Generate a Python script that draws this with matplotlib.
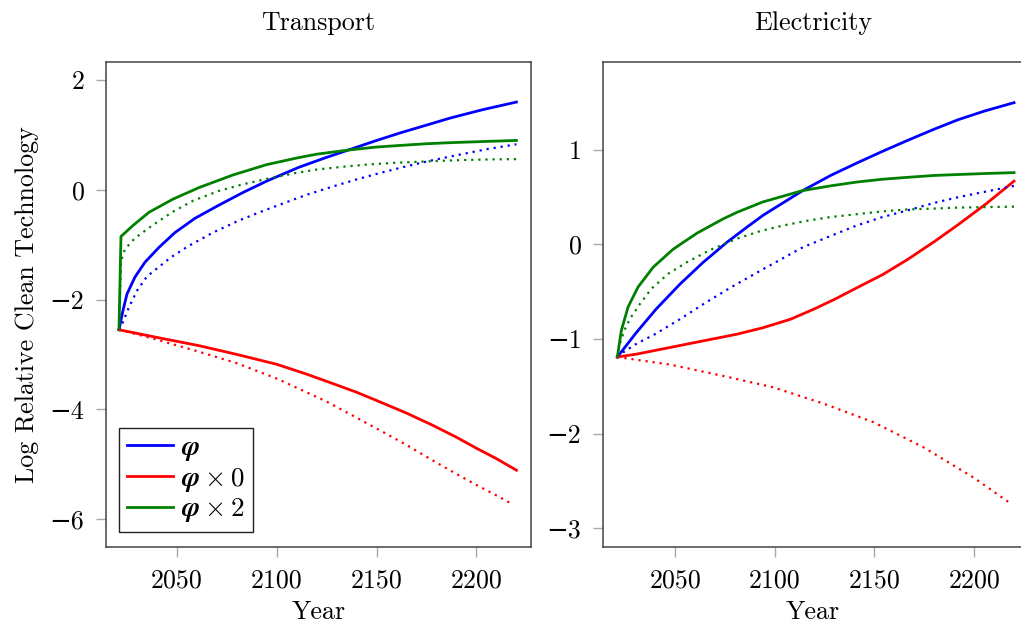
import numpy as np
import matplotlib
matplotlib.use('Agg')
import matplotlib.pyplot as plt

plt.rcParams['font.family'] = ['cmr10', 'DejaVu Serif']
plt.rcParams['mathtext.fontset'] = 'cm'
plt.rcParams['axes.formatter.use_mathtext'] = False
plt.rcParams['font.size'] = 18.7

# ---- Transport ----
t_blue_x = [2021, 2023, 2025, 2029, 2034, 2041, 2049, 2059, 2071, 2083, 2095, 2111, 2124, 2137, 2150, 2162, 2175, 2187, 2203, 2220]
t_blue = [-2.55, -2.20, -1.90, -1.59, -1.32, -1.05, -0.78, -0.52, -0.28, -0.05, 0.16, 0.41, 0.58, 0.74, 0.90, 1.04, 1.18, 1.31, 1.46, 1.60]
t_blue_d_x = [2021, 2023, 2026, 2030, 2035, 2047, 2056, 2068, 2081, 2092, 2103, 2115, 2128, 2140, 2152, 2165, 2178, 2190, 2205, 2220]
t_blue_d = [-2.55, -2.41, -2.14, -1.84, -1.58, -1.23, -1.02, -0.78, -0.56, -0.40, -0.25, -0.09, 0.06, 0.19, 0.31, 0.43, 0.54, 0.63, 0.74, 0.83]
t_red_x = [2021, 2040, 2061, 2080, 2100, 2115, 2128, 2140, 2150, 2165, 2178, 2190, 2200, 2210, 2220]
t_red = [-2.55, -2.69, -2.84, -3.00, -3.18, -3.36, -3.53, -3.69, -3.84, -4.07, -4.29, -4.51, -4.71, -4.90, -5.11]
t_red_d_x = [2021, 2040, 2061, 2080, 2100, 2125, 2150, 2165, 2178, 2190, 2200, 2210, 2218]
t_red_d = [-2.55, -2.73, -2.95, -3.16, -3.44, -3.86, -4.35, -4.65, -4.93, -5.18, -5.38, -5.57, -5.73]
t_green_x = [2021, 2022, 2028, 2036, 2048, 2061, 2078, 2095, 2110, 2120, 2137, 2150, 2162, 2175, 2187, 2203, 2220]
t_green = [-2.55, -0.85, -0.65, -0.41, -0.17, 0.04, 0.27, 0.46, 0.58, 0.65, 0.73, 0.78, 0.81, 0.84, 0.86, 0.88, 0.90]
t_green_d_x = [2021, 2022, 2024, 2029, 2038, 2048, 2058, 2071, 2083, 2095, 2110, 2120, 2133, 2145, 2158, 2170, 2183, 2195, 2208, 2220]
t_green_d = [-2.55, -1.30, -1.08, -0.88, -0.64, -0.40, -0.20, -0.02, 0.10, 0.20, 0.31, 0.37, 0.42, 0.46, 0.49, 0.51, 0.53, 0.545, 0.555, 0.56]

# ---- Electricity ----
e_blue_x = [2021, 2030.6, 2040.6, 2052.4, 2064, 2075.8, 2085.8, 2094.2, 2114, 2128, 2141, 2154, 2166.5, 2180, 2192, 2205, 2220]
e_blue = [-1.19, -0.93, -0.68, -0.42, -0.19, 0.02, 0.18, 0.31, 0.57, 0.73, 0.86, 0.985, 1.10, 1.22, 1.32, 1.41, 1.50]
e_blue_d_x = [2021, 2024, 2030.6, 2039.8, 2052.4, 2065.7, 2078.3, 2094.2, 2114, 2128, 2141, 2154, 2166.5, 2180, 2192, 2206, 2220]
e_blue_d = [-1.19, -1.14, -1.05, -0.95, -0.79, -0.61, -0.45, -0.26, -0.03, 0.09, 0.20, 0.29, 0.36, 0.44, 0.50, 0.56, 0.62]
e_red_x = [2021, 2030.6, 2047.3, 2064, 2080.8, 2094.2, 2108, 2120, 2130, 2141, 2154, 2166.5, 2180, 2192, 2206, 2220]
e_red = [-1.19, -1.16, -1.09, -1.02, -0.95, -0.88, -0.79, -0.68, -0.58, -0.46, -0.32, -0.16, 0.03, 0.21, 0.43, 0.67]
e_red_d_x = [2021, 2030.6, 2047.3, 2074, 2099, 2124, 2149.5, 2175, 2200, 2219]
e_red_d = [-1.19, -1.22, -1.27, -1.39, -1.51, -1.68, -1.88, -2.15, -2.47, -2.75]
e_green_x = [2021, 2023, 2026.4, 2031.4, 2039, 2049, 2061, 2074, 2081, 2094, 2114, 2128, 2141, 2154, 2166.5, 2180, 2192, 2205, 2220]
e_green = [-1.19, -0.91, -0.66, -0.45, -0.24, -0.05, 0.12, 0.27, 0.34, 0.45, 0.57, 0.62, 0.66, 0.69, 0.71, 0.73, 0.74, 0.75, 0.76]
e_green_d_x = [2021, 2022.2, 2024.7, 2027.5, 2032.3, 2038, 2046.5, 2055.7, 2067.4, 2080.8, 2092.5, 2104, 2116, 2128, 2141, 2154, 2166, 2180, 2192, 2206, 2220]
e_green_d = [-1.19, -1.05, -0.90, -0.78, -0.63, -0.47, -0.31, -0.19, -0.06, 0.06, 0.14, 0.20, 0.25, 0.29, 0.32, 0.35, 0.37, 0.38, 0.39, 0.395, 0.40]

labels = [r'$\mathbfit{\varphi}$', r'$\mathbfit{\varphi} \times 0$', r'$\mathbfit{\varphi} \times 2$']
blue, red, green = '#0000ff', '#ff0000', '#008000'
dot = (0, (1, 2.2))
lw = 2.0
lwd = 1.6

fig = plt.figure(figsize=(10.21, 6.23), dpi=100)
ax1 = fig.add_axes([106/1021, 76/623, 425/1021, 485/623])
ax2 = fig.add_axes([603/1021, 76/623, 420/1021, 485/623])

ax1.plot(t_blue_x, t_blue, color=blue, lw=lw, label=labels[0])
ax1.plot(t_red_x, t_red, color=red, lw=lw, label=labels[1])
ax1.plot(t_green_x, t_green, color=green, lw=lw, label=labels[2])
ax1.plot(t_blue_d_x, t_blue_d, color=blue, lw=lwd, ls=dot)
ax1.plot(t_red_d_x, t_red_d, color=red, lw=lwd, ls=dot)
ax1.plot(t_green_d_x, t_green_d, color=green, lw=lwd, ls=dot)

ax2.plot(e_blue_x, e_blue, color=blue, lw=lw)
ax2.plot(e_red_x, e_red, color=red, lw=lw)
ax2.plot(e_green_x, e_green, color=green, lw=lw)
ax2.plot(e_blue_d_x, e_blue_d, color=blue, lw=lwd, ls=dot)
ax2.plot(e_red_d_x, e_red_d, color=red, lw=lwd, ls=dot)
ax2.plot(e_green_d_x, e_green_d, color=green, lw=lwd, ls=dot)

ax1.set_xlim(2014.5, 2227.3)
ax1.set_ylim(-6.51, 2.33)
ax1.set_yticks([-6, -4, -2, 0, 2])
ax2.set_xlim(2013.8, 2224.5)
ax2.set_ylim(-3.2, 1.93)
ax2.set_yticks([-3, -2, -1, 0, 1])

for ax, title in [(ax1, 'Transport'), (ax2, 'Electricity')]:
    ax.set_xticks([2050, 2100, 2150, 2200])
    ax.set_title(title, pad=23, fontsize=18.7)
    ax.set_xlabel('Year', labelpad=6)
    ax.tick_params(direction='out', length=7.5, width=1, color='#aaaaaa', pad=8, labelsize=18.7)
    for s in ax.spines.values():
        s.set_color('#444444')
        s.set_linewidth(1.1)

ax1.set_ylabel('Log Relative Clean Technology', labelpad=8)

leg = ax1.legend(loc='lower left', bbox_to_anchor=(0.03, 0.03), borderaxespad=0,
                 handlelength=1.7, handletextpad=0.3, labelspacing=0.1,
                 borderpad=0.3, fancybox=False, framealpha=1, fontsize=19.5)
leg.get_frame().set_edgecolor('#222222')
leg.get_frame().set_linewidth(1.0)

plt.savefig('out.png', dpi=100)
